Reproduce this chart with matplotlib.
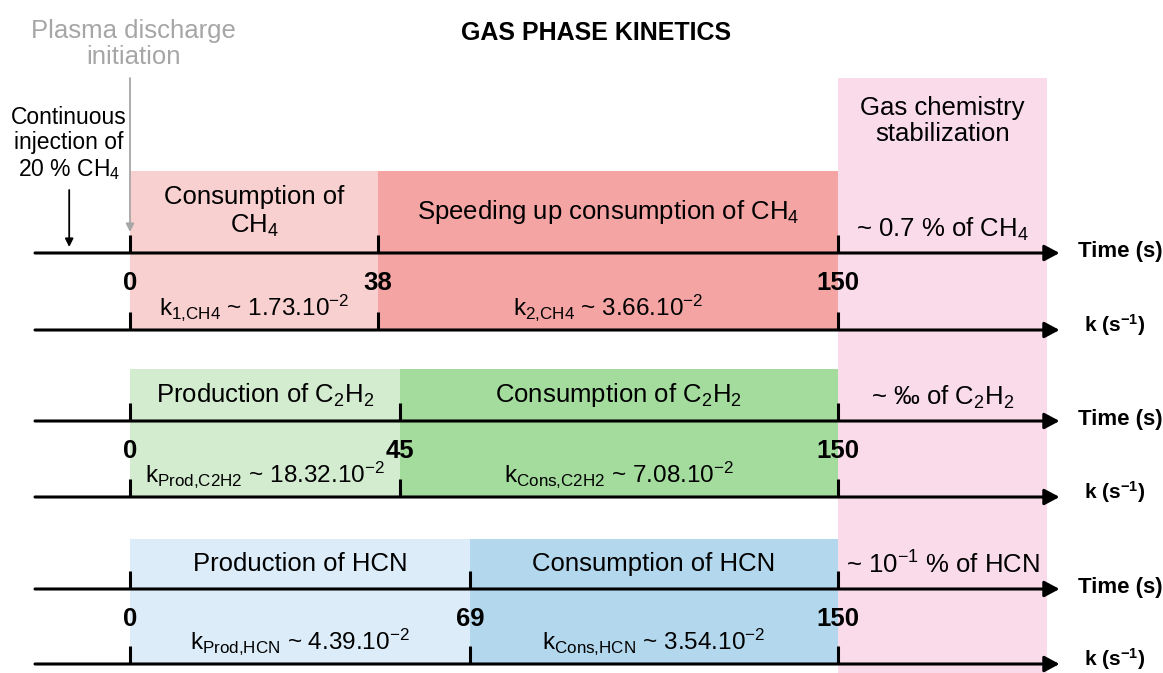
import numpy as np
import matplotlib.pyplot as plt

plt.rcParams['font.family'] = 'Liberation Sans'
plt.rcParams['mathtext.fontset'] = 'custom'
plt.rcParams['mathtext.rm'] = 'Liberation Sans'
plt.rcParams['mathtext.it'] = 'Liberation Sans:italic'
plt.rcParams['mathtext.bf'] = 'Liberation Sans:bold'

# data: one row per species
t_break = [38, 45, 69]
t_end = 150
phase1 = ['Consumption of\nCH$_4$', 'Production of C$_2$H$_2$', 'Production of HCN']
phase2 = ['Speeding up consumption of CH$_4$', 'Consumption of C$_2$H$_2$',
          'Consumption of HCN']
stab_text = ['~ 0.7 % of CH$_4$', '~ \u2030 of C$_2$H$_2$', '~ 10$^{\\mathrm{-1}}$ % of HCN']
k1_name = ['1{,}CH4', 'Prod{,}C2H2', 'Prod{,}HCN']
k1_val = ['1.73', '18.32', '4.39']
k2_name = ['2{,}CH4', 'Cons{,}C2H2', 'Cons{,}HCN']
k2_val = ['3.66', '7.08', '3.54']
k_exp = -2

light = ['#f9d0d0', '#d3ecd0', '#dcedf9']
dark = ['#f5a4a4', '#a3dc9d', '#b3d7ec']
stab_color = '#f9dbe9'

# layout of the rows (pixels from top)
time_y = [253, 421, 589]
k_y = [330, 497, 664]
box_top = [171, 369, 539]

# the diagram is not to scale: piecewise time -> pixel scale
knots_t = [-300, -25, 0, 38, 45, 69, 150, 200, 400]
knots_px = [-1010, 35, 130, 378, 400, 470, 838, 1047, 1883]


def fwd(t):
    return np.interp(t, knots_t, knots_px)


def inv(p):
    return np.interp(p, knots_px, knots_t)


t_axis_start = -25
t_arrow_end = 203
t_inj = -16
t_stab_end = 200

FS = 18.5

fig = plt.figure(figsize=(11.63, 6.73), dpi=100)
ax = fig.add_axes([0, 0, 1, 1])
ax.set_xscale('function', functions=(fwd, inv))
ax.set_xlim(inv(0), inv(1163))
ax.set_ylim(673, 0)
ax.set_autoscale_on(False)
ax.axis('off')


def mid(a, b):
    return inv((fwd(a) + fwd(b)) / 2)


# stabilization zone
ax.fill_between([t_end, t_stab_end], 78, 673, color=stab_color, lw=0, zorder=0)
ax.text(mid(t_end, t_stab_end), 121, 'Gas chemistry\nstabilization',
        ha='center', va='center', fontsize=FS, linespacing=1.15)

for i in range(3):
    brk = t_break[i]
    yt, yk, top = time_y[i], k_y[i], box_top[i]
    ax.fill_between([0, brk], top, yk, color=light[i], lw=0, zorder=1)
    ax.fill_between([brk, t_end], top, yk, color=dark[i], lw=0, zorder=1)

    for y in (yt, yk):
        ax.annotate('', xy=(t_arrow_end, y), xytext=(t_axis_start, y),
                    arrowprops=dict(arrowstyle='-|>,head_length=0.45,head_width=0.24',
                                    lw=2.2, color='black', shrinkA=0, shrinkB=0,
                                    mutation_scale=20), zorder=3)
        ax.vlines([0, brk, t_end], y - 18, y, color='black', lw=2.2, zorder=3)

    for t in (0, brk, t_end):
        ax.text(t, yt + 30, str(t), ha='center', va='center', fontsize=FS,
                fontweight='bold', zorder=4)

    ymid = (top + yt) / 2
    ax.text(mid(0, brk), ymid, phase1[i], ha='center', va='center',
            fontsize=FS, linespacing=1.15, zorder=4)
    ax.text(mid(brk, t_end), ymid, phase2[i], ha='center', va='center',
            fontsize=FS, zorder=4)
    ax.text(mid(t_end, t_stab_end), yt - 24, stab_text[i], ha='center', va='center',
            fontsize=FS, zorder=4)

    ax.text(mid(0, brk), yk - 15,
            r'k$_{\mathrm{%s}}$ ~ %s.10$^{\mathrm{%d}}$' % (k1_name[i], k1_val[i], k_exp),
            ha='center', va='baseline', fontsize=17.5, zorder=4)
    ax.text(mid(brk, t_end), yk - 15,
            r'k$_{\mathrm{%s}}$ ~ %s.10$^{\mathrm{%d}}$' % (k2_name[i], k2_val[i], k_exp),
            ha='center', va='baseline', fontsize=17.5, zorder=4)

    ax.annotate('Time (s)', xy=(t_arrow_end, yt), xytext=(18, 1),
                textcoords='offset pixels', ha='left', va='center',
                fontsize=16, fontweight='bold')
    ax.annotate(r'k (s$^{\mathbf{-1}}$)', xy=(t_arrow_end, yk), xytext=(24, 5),
                textcoords='offset pixels', ha='left', va='center',
                fontsize=15, fontweight='bold')

# annotations on the left
ax.annotate('', xy=(0, 232), xytext=(0, 78),
            arrowprops=dict(arrowstyle='-|>', lw=1.3, color='#a6a6a6',
                            shrinkA=0, shrinkB=0, mutation_scale=12))
ax.text(0.6, 44, 'Plasma discharge\ninitiation', ha='center', va='center',
        fontsize=FS, color='#a6a6a6', linespacing=1.15)
ax.annotate('', xy=(t_inj, 247), xytext=(t_inj, 190),
            arrowprops=dict(arrowstyle='-|>', lw=1.3, color='black',
                            shrinkA=0, shrinkB=0, mutation_scale=12))
ax.text(t_inj, 144, 'Continuous\ninjection of\n20 % CH$_4$', ha='center', va='center',
        fontsize=16.5, linespacing=1.15)

fig.text(596 / 1163, 1 - 33 / 673, 'GAS PHASE KINETICS', ha='center', va='center',
         fontsize=18, fontweight='bold')

fig.savefig('out.png', dpi=100)
